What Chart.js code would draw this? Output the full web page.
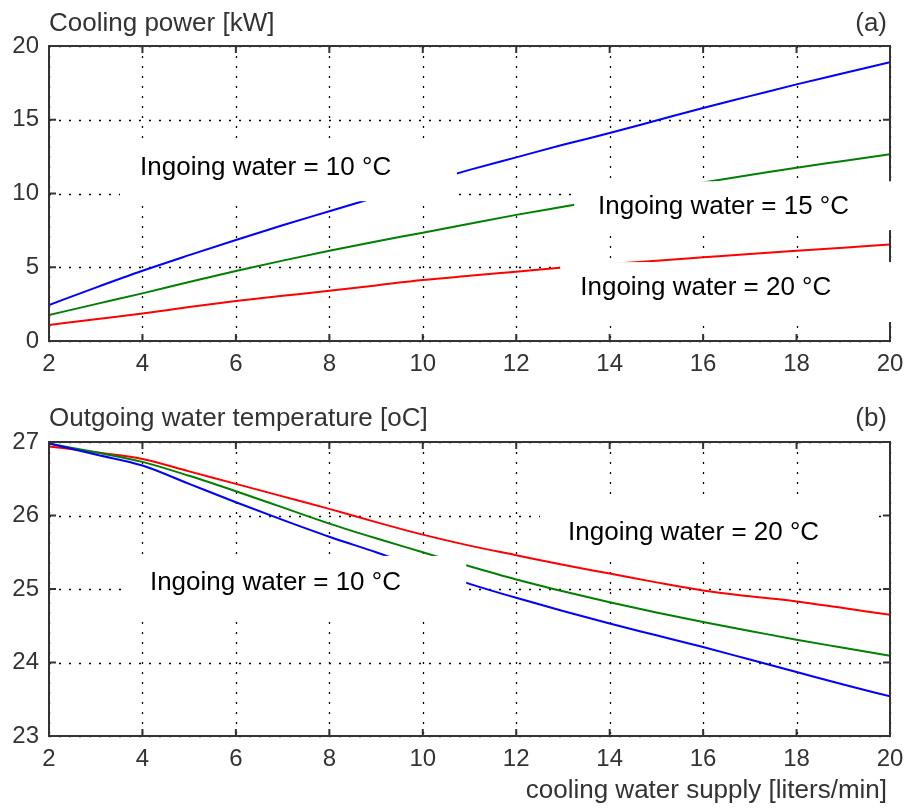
<!DOCTYPE html>
<html>
<head>
<meta charset="utf-8">
<script src="https://cdn.jsdelivr.net/npm/chart.js@4/dist/chart.umd.min.js"></script>
<style>
  html, body { margin: 0; padding: 0; background: #fff; }
  #wrap { position: relative; width: 906px; height: 811px; overflow: hidden; }
  canvas { position: absolute; left: 0; }
  #c1 { top: 0; }
  #c2 { top: 400px; }
</style>
</head>
<body>
<div id="wrap">
  <canvas id="c1" width="906" height="400"></canvas>
  <canvas id="c2" width="906" height="411"></canvas>
</div>
<script>
// ---- data ----
const flow = [2,3,4,5,6,7,8,9,10,11,12,13,14,15,16,17,18,19,20]; // liters/min
const xTicksStep = 2;

// (a) Cooling power [kW]
const power10 = [2.44,3.62,4.76,5.82,6.85,7.85,8.80,9.75,10.70,11.60,12.45,13.30,14.10,14.95,15.80,16.60,17.40,18.15,18.90];
const power15 = [1.76,2.50,3.23,4.00,4.75,5.45,6.12,6.75,7.34,7.95,8.55,9.10,9.65,10.20,10.75,11.25,11.75,12.20,12.66];
const power20 = [1.08,1.48,1.87,2.30,2.71,3.06,3.41,3.77,4.13,4.42,4.70,4.98,5.22,5.44,5.67,5.90,6.12,6.33,6.55];

// (b) Outgoing water temperature [oC]
const out10 = [26.98,26.83,26.68,26.43,26.18,25.94,25.71,25.50,25.28,25.07,24.88,24.70,24.53,24.37,24.21,24.04,23.87,23.70,23.54];
const out15 = [26.98,26.86,26.73,26.54,26.33,26.11,25.89,25.69,25.50,25.31,25.13,24.97,24.82,24.68,24.55,24.43,24.31,24.20,24.09];
const out20 = [26.94,26.86,26.77,26.60,26.43,26.26,26.09,25.91,25.74,25.59,25.46,25.33,25.21,25.09,24.98,24.90,24.83,24.74,24.65];

const seriesLabels = ['Ingoing water = 10 °C','Ingoing water = 15 °C','Ingoing water = 20 °C'];
const seriesColors = ['#0000ff','#008000','#ff0000'];

const titleA = 'Cooling power [kW]';
const tagA = '(a)';
const titleB = 'Outgoing water temperature [oC]';
const tagB = '(b)';
const xTitle = 'cooling water supply [liters/min]';

// annotation boxes (data units): [x0, x1, y0, y1], text anchor [x, y]
const notesA = [
  { box: [3.52, 10.73, 9.48, 13.40], at: [3.95, 11.71], text: seriesLabels[0] },
  { box: [13.24, 20.4, 7.52, 10.83], at: [13.75, 9.07], text: seriesLabels[1] },
  { box: [12.94, 20.4, 1.29, 5.35], at: [13.37, 3.59], text: seriesLabels[2] }
];
const notesB = [
  { box: [3.69, 10.93, 24.61, 25.45], at: [4.16, 25.08], text: seriesLabels[0] },
  { box: [12.51, 19.74, 25.42, 26.21], at: [13.11, 25.76], text: seriesLabels[2] }
];

// ---- helpers ----
const pts = (ys) => flow.map((x, i) => ({ x: x, y: ys[i] }));
const AXIS_FONT = '"Liberation Sans", Arial, sans-serif';
const AXIS_COLOR = '#333333';

function makeDatasets(arrs) {
  return arrs.map((a, i) => ({
    label: seriesLabels[i],
    data: pts(a),
    borderColor: seriesColors[i],
    backgroundColor: seriesColors[i],
    borderWidth: 2,
    pointRadius: 0,
    cubicInterpolationMode: 'monotone',
    fill: false
  }));
}

function decorPlugin(cfg) {
  return {
    id: 'decor_' + cfg.tag,
    beforeDatasetsDraw(chart) {
      // dotted grid
      const ctx = chart.ctx, a = chart.chartArea;
      const xs = chart.scales.x, ys = chart.scales.y;
      ctx.save();
      ctx.strokeStyle = '#000';
      ctx.lineWidth = 1.3;
      ctx.setLineDash([2, 8]);
      xs.ticks.forEach(t => {
        const px = Math.round(xs.getPixelForValue(t.value)) + 0.5;
        ctx.beginPath(); ctx.moveTo(px, a.top); ctx.lineTo(px, a.bottom); ctx.stroke();
      });
      ys.ticks.forEach(t => {
        const py = Math.round(ys.getPixelForValue(t.value)) + 0.5;
        ctx.beginPath(); ctx.moveTo(a.left, py); ctx.lineTo(a.right, py); ctx.stroke();
      });
      ctx.restore();
    },
    afterDatasetsDraw(chart) {
      // frame with inner ticks
      const ctx = chart.ctx, a = chart.chartArea;
      const xs = chart.scales.x, ys = chart.scales.y;
      ctx.save();
      ctx.strokeStyle = AXIS_COLOR;
      ctx.lineWidth = 2;
      ctx.setLineDash([]);
      ctx.strokeRect(a.left, a.top, a.right - a.left, a.bottom - a.top);
      const L = 7;
      xs.ticks.forEach(t => {
        const px = xs.getPixelForValue(t.value);
        ctx.beginPath();
        ctx.moveTo(px, a.top); ctx.lineTo(px, a.top + L);
        ctx.moveTo(px, a.bottom); ctx.lineTo(px, a.bottom - L);
        ctx.stroke();
      });
      ys.ticks.forEach(t => {
        const py = ys.getPixelForValue(t.value);
        ctx.beginPath();
        ctx.moveTo(a.left, py); ctx.lineTo(a.left + L, py);
        ctx.moveTo(a.right, py); ctx.lineTo(a.right - L, py);
        ctx.stroke();
      });
      ctx.restore();
    },
    afterDraw(chart) {
      const ctx = chart.ctx, a = chart.chartArea;
      const xs = chart.scales.x, ys = chart.scales.y;
      ctx.save();
      // white annotation boxes
      cfg.notes.forEach(n => {
        const x0 = xs.getPixelForValue(n.box[0]), x1 = xs.getPixelForValue(n.box[1]);
        const y0 = ys.getPixelForValue(n.box[3]), y1 = ys.getPixelForValue(n.box[2]);
        ctx.fillStyle = '#ffffff';
        ctx.fillRect(x0, y0, x1 - x0, y1 - y0);
      });
      ctx.fillStyle = '#000000';
      ctx.font = '26px ' + AXIS_FONT;
      ctx.textBaseline = 'middle';
      ctx.textAlign = 'left';
      cfg.notes.forEach(n => {
        ctx.fillText(n.text, xs.getPixelForValue(n.at[0]), ys.getPixelForValue(n.at[1]));
      });
      // titles
      ctx.fillStyle = AXIS_COLOR;
      ctx.font = '26px ' + AXIS_FONT;
      ctx.textBaseline = 'alphabetic';
      ctx.textAlign = 'left';
      ctx.fillText(cfg.title, a.left, cfg.titleBase);
      ctx.textAlign = 'right';
      ctx.fillText(cfg.tag, a.right - 3, cfg.titleBase);
      if (cfg.xTitle) {
        ctx.fillText(cfg.xTitle, a.right - 3, cfg.xTitleBase);
      }
      ctx.restore();
    }
  };
}

function makeChart(id, arrs, yMin, yMax, yStep, padTop, xAxisH, cfg) {
  return new Chart(document.getElementById(id), {
    type: 'line',
    data: { datasets: makeDatasets(arrs) },
    options: {
      responsive: false,
      animation: false,
      devicePixelRatio: 1,
      layout: { padding: { top: padTop, right: 16, left: 0, bottom: 0 } },
      plugins: { legend: { display: false }, tooltip: { enabled: false }, title: { display: false } },
      scales: {
        x: {
          type: 'linear', min: 2, max: 20,
          ticks: { stepSize: xTicksStep, color: AXIS_COLOR, font: { family: AXIS_FONT, size: 24 }, padding: 9, maxRotation: 0, autoSkip: false },
          grid: { display: false, drawTicks: false },
          border: { display: false },
          afterFit(s) { s.height = xAxisH; s.paddingLeft = 0; s.paddingRight = 0; }
        },
        y: {
          type: 'linear', min: yMin, max: yMax,
          ticks: { stepSize: yStep, color: AXIS_COLOR, font: { family: AXIS_FONT, size: 24 }, padding: 10 },
          grid: { display: false, drawTicks: false },
          border: { display: false },
          afterFit(s) { s.width = 49; s.paddingTop = 0; s.paddingBottom = 0; }
        }
      }
    },
    plugins: [decorPlugin(cfg)]
  });
}

makeChart('c1', [power10, power15, power20], 0, 20, 5, 46, 59,
  { tag: tagA, title: titleA, titleBase: 31, notes: notesA });
makeChart('c2', [out10, out15, out20], 23, 27, 1, 42, 75,
  { tag: tagB, title: titleB, titleBase: 26, notes: notesB, xTitle: xTitle, xTitleBase: 398 });
</script>
</body>
</html>
